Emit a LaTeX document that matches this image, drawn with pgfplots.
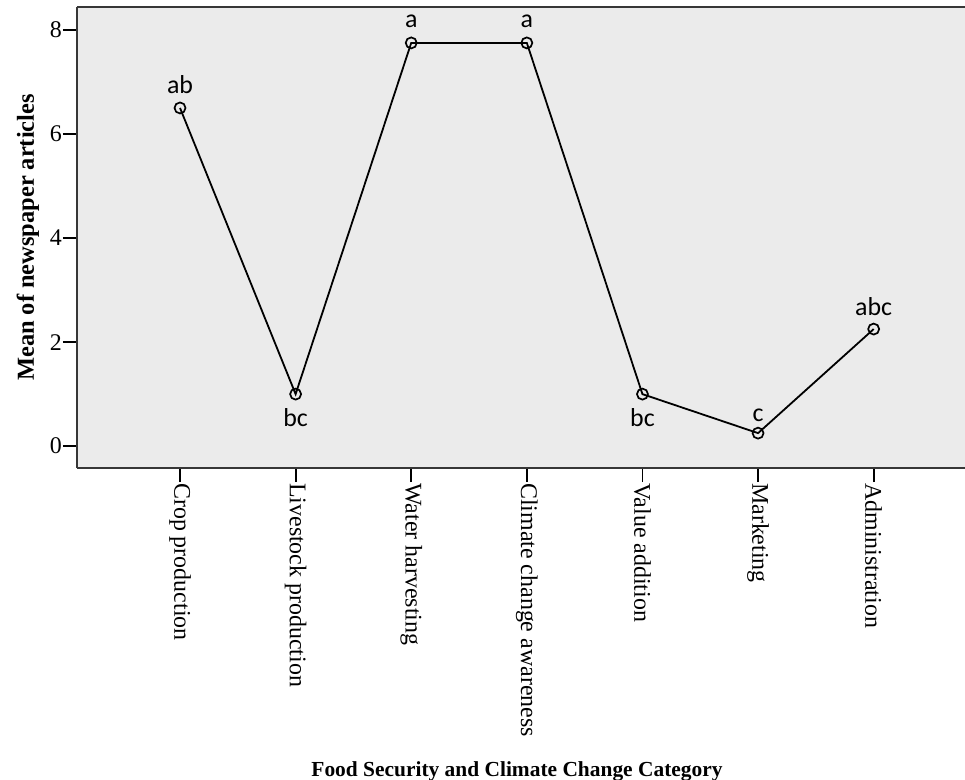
\documentclass[border=0pt]{standalone}
\usepackage{fontspec}
\setmainfont{Liberation Serif}
\newfontfamily\letterfont{Carlito}
\usepackage{pgfplots}
\pgfplotsset{compat=1.18}
\usetikzlibrary{calc}
\definecolor{panel}{RGB}{235,235,235}
\definecolor{axgray}{RGB}{55,55,55}
\begin{document}
\begin{tikzpicture}
\begin{axis}[
    name=main,
    scale only axis,
    width=888bp, height=461bp,
    xmin=-0.891, xmax=6.79,
    ymin=-0.42, ymax=8.44,
    axis x line*=box, axis y line*=left,
    xtick pos=bottom, ytick pos=left,
    axis line style={axgray, line width=2.8bp},
    axis background/.style={fill=panel},
    xtick={0,...,6},
    xticklabels={Crop production, Livestock production, Water harvesting,
        Climate change awareness, Value addition, Marketing, Administration},
    ytick={0,2,4,6,8},
    tick align=outside,
    major tick length=14bp,
    tick style={black, line width=1.8bp},
    x tick label style={rotate=-90, anchor=west, font=\fontsize{24}{26}\selectfont, inner sep=1bp},
    y tick label style={font=\fontsize{24}{26}\selectfont, inner sep=1bp},
    /pgf/number format/assume math mode=true,
    xlabel={\textbf{Food Security and Climate Change Category}},
    ylabel={\textbf{Mean of newspaper articles}},
    xlabel style={font=\fontsize{21.5}{24}\selectfont, at={(axis description cs:0.5,0)}, anchor=base, yshift=-308bp, xshift=-4bp},
    ylabel style={font=\fontsize{24.5}{26}\selectfont, at={(axis description cs:0,0.5)}, anchor=center, yshift=49bp},
    clip=false,
]
\addplot[black, line width=1.8bp, mark=o, mark size=5.5bp, mark options={line width=1.7bp}]
coordinates {(0,6.5) (1,1) (2,7.75) (3,7.75) (4,1) (5,0.25) (6,2.25)};
\begin{scope}[every node/.style={font=\letterfont\fontsize{26}{28}\selectfont}]
\node[above=11bp] at (axis cs:0,6.5) {ab};
\node[below=11bp] at (axis cs:1,1) {bc};
\node[above=12bp] at (axis cs:2,7.75) {a};
\node[above=12bp] at (axis cs:3,7.75) {a};
\node[below=11bp] at (axis cs:4,1) {bc};
\node[above=8bp] at (axis cs:5,0.25) {c};
\node[above=10bp] at (axis cs:6,2.25) {abc};
\end{scope}
\end{axis}
\pgfresetboundingbox
\path ($(main.south west)+(-77bp,-312bp)$) rectangle ($(main.north east)+(0,7bp)$);
\end{tikzpicture}
\end{document}
